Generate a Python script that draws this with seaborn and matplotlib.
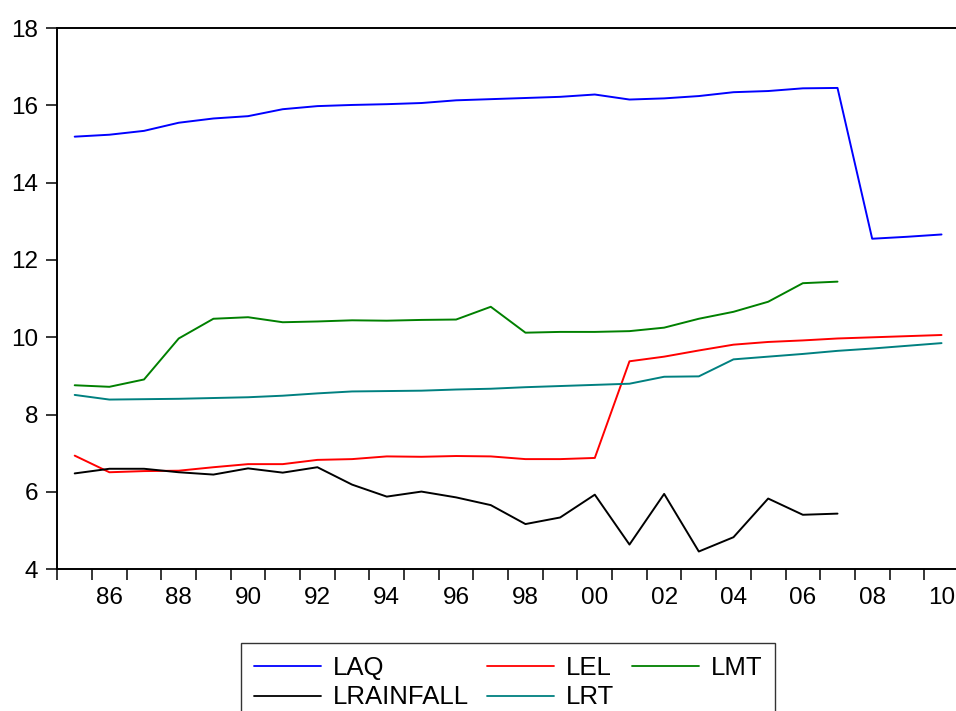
import numpy as np
import pandas as pd
import matplotlib
matplotlib.use('Agg')
import matplotlib.pyplot as plt
import seaborn as sns

# data (annual, 1985-2010)
years = list(range(1985, 2011))
laq = [15.19, 15.24, 15.34, 15.55, 15.66, 15.72, 15.90, 15.98, 16.01, 16.03,
       16.06, 16.13, 16.16, 16.19, 16.22, 16.28, 16.15, 16.18, 16.24, 16.34,
       16.37, 16.44, 16.45, 12.55, 12.60, 12.66]
lel = [6.94, 6.51, 6.54, 6.55, 6.64, 6.72, 6.72, 6.83, 6.85, 6.92,
       6.91, 6.93, 6.92, 6.85, 6.85, 6.88, 9.38, 9.50, 9.66, 9.81,
       9.88, 9.92, 9.97, 10.00, 10.03, 10.06]
lmt = [8.76, 8.72, 8.91, 9.97, 10.48, 10.52, 10.39, 10.41, 10.44, 10.43,
       10.45, 10.46, 10.79, 10.12, 10.14, 10.14, 10.16, 10.25, 10.48, 10.66,
       10.92, 11.40, 11.44, np.nan, np.nan, np.nan]
lrainfall = [6.48, 6.60, 6.60, 6.51, 6.45, 6.61, 6.50, 6.64, 6.19, 5.88,
             6.01, 5.86, 5.66, 5.17, 5.34, 5.93, 4.64, 5.95, 4.46, 4.83,
             5.83, 5.41, 5.44, np.nan, np.nan, np.nan]
lrt = [8.51, 8.39, 8.40, 8.41, 8.43, 8.45, 8.49, 8.55, 8.60, 8.61,
       8.62, 8.65, 8.67, 8.71, 8.74, 8.77, 8.80, 8.98, 8.99, 9.43,
       9.50, 9.57, 9.65, 9.71, 9.78, 9.85]

series = {'LAQ': laq, 'LEL': lel, 'LMT': lmt, 'LRAINFALL': lrainfall, 'LRT': lrt}
colors = {'LAQ': '#0000ff', 'LEL': '#ff0000', 'LMT': '#008000',
          'LRAINFALL': '#000000', 'LRT': '#008080'}

df = pd.DataFrame(series)
df['year'] = years
mdf = df.melt(id_vars='year', var_name='series', value_name='value').dropna()

sns.set_style('white')
plt.rcParams['font.family'] = ['Liberation Sans', 'DejaVu Sans']
plt.rcParams['text.color'] = 'black'
plt.rcParams['xtick.color'] = 'black'
plt.rcParams['ytick.color'] = 'black'

fig = plt.figure(figsize=(9.56, 7.11), dpi=100)
ax = fig.add_axes([0.060, 0.1993, 0.943, 0.7613])

sns.lineplot(data=mdf, x='year', y='value', hue='series', hue_order=list(series),
             palette=colors, ax=ax, linewidth=1.4, legend=False, estimator=None)

ax.set_xlim(1984.5, 2010.5)
ax.set_ylim(4, 18)
ax.set_xlabel('')
ax.set_ylabel('')

# year boundaries get tick marks, labels sit in the middle of even years
ax.set_xticks(np.arange(1984.5, 2010.5, 1))
ax.set_xticklabels([])
lab_years = list(range(1986, 2011, 2))
ax.set_xticks(lab_years, minor=True)
ax.set_xticklabels([str(y)[2:] for y in lab_years], minor=True)
ax.tick_params(axis='x', which='major', direction='out', length=8, width=1.1,
               bottom=True)
ax.tick_params(axis='x', which='minor', length=0, pad=13, labelsize=17.5, bottom=True)

ax.set_yticks(np.arange(4, 19, 2))
ax.tick_params(axis='y', direction='out', length=8, width=1.1,
               pad=6, labelsize=17.5, left=True)

for s in ['left', 'bottom', 'top']:
    ax.spines[s].set_color('black')
    ax.spines[s].set_linewidth(1.4)
ax.spines['right'].set_visible(False)

# legend in three columns, filled row by row like the reference
order = ['LAQ', 'LRAINFALL', 'LEL', 'LRT', 'LMT']
handles = [plt.Line2D([], [], color=colors[k], linewidth=1.3) for k in order]
leg = fig.legend(handles, order, ncol=3, loc='upper left',
                 bbox_to_anchor=(241 / 956, 1 - 643 / 711), fontsize=18.5,
                 frameon=True, fancybox=False, handlelength=2.6,
                 handletextpad=0.47, columnspacing=0.7, labelspacing=0.22,
                 borderpad=0.5, borderaxespad=0)
leg.get_frame().set_edgecolor('black')
leg.get_frame().set_linewidth(1.0)

fig.savefig('out.png', dpi=100)
